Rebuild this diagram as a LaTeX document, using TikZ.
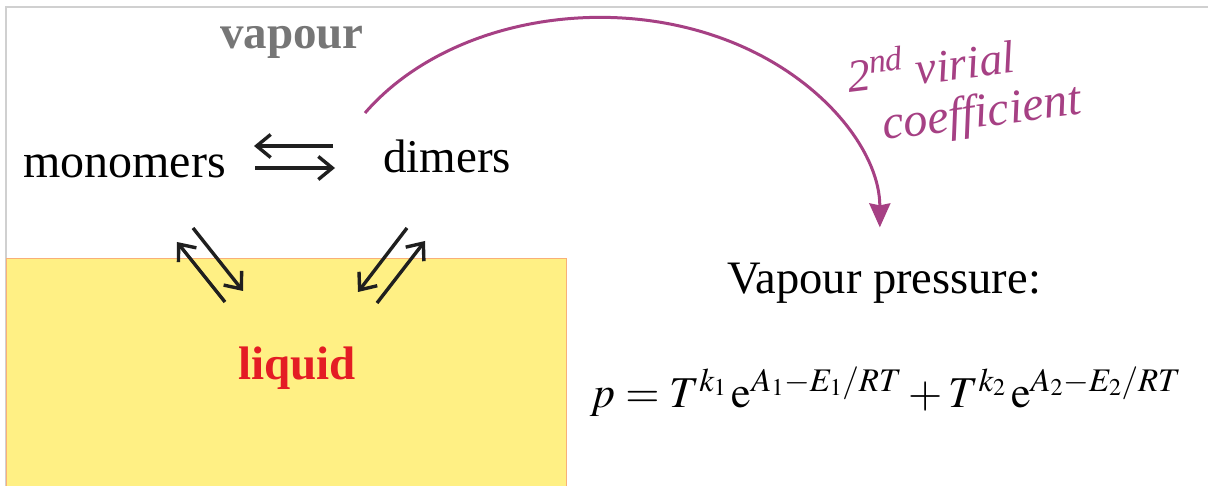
\documentclass[tikz,border=0pt]{standalone}
\usepackage{mathptmx}
\usepackage[no-math]{fontspec}
\setmainfont{Liberation Serif}
\DeclareMathSizes{44}{44}{33}{24}
\usetikzlibrary{arrows.meta}
\definecolor{vir}{RGB}{166,64,132}
\definecolor{vapgray}{RGB}{118,118,118}
\definecolor{liqred}{RGB}{228,28,36}
\definecolor{liqfill}{RGB}{255,240,132}
\definecolor{liqedge}{RGB}{248,176,120}
\definecolor{framegray}{RGB}{208,208,208}
\begin{document}
\begin{tikzpicture}[x=1pt,y=-1pt,
  lbl/.style={inner sep=0pt, anchor=base west},
  eqarrow/.style={line width=3.4pt, draw=black!88, -{Straight Barb[length=14pt,width=23pt]}},
  virarrow/.style={line width=3pt, draw=vir, -{Stealth[length=24pt,width=21pt,inset=2pt]}},
]
\useasboundingbox (0,0) rectangle (1208,486);
\fill[white] (0,0) rectangle (1208,486);
\draw[framegray, line width=1.5pt] (6,490) -- (6,7) -- (1210,7);
\node[draw=liqedge, line width=1.2pt, fill=liqfill, anchor=north west, inner sep=0pt,
      minimum width=560pt, minimum height=240pt] (liquidbox) at (6,258) {};

\node[lbl, text=vapgray, font=\fontsize{47}{56}\selectfont\bfseries] (vapour) at (220,49) {vapour};
\node[lbl, font=\fontsize{48}{58}\selectfont] (mono) at (23,178) {monomers};
\node[lbl, font=\fontsize{47}{56}\selectfont] (dimers) at (383,173) {dimers};
\node[lbl, text=liqred, font=\fontsize{47}{56}\selectfont\bfseries] (liquid) at (238,380) {liquid};
\node[lbl, font=\fontsize{46.5}{56}\selectfont] (vp) at (727,294) {Vapour pressure:};
\node[lbl, font=\fontsize{44}{52}\selectfont] (formula) at (590,407)
  {$p = T^{k_1}\,\mathrm{e}^{A_1-E_1/RT} + T^{k_2}\,\mathrm{e}^{A_2-E_2/RT}$};
\node[lbl, text=vir, rotate=7, font=\fontsize{46}{54}\selectfont\itshape] (vir1) at (849,93) {2\textsuperscript{nd} virial};
\node[lbl, text=vir, rotate=7.5, font=\fontsize{48}{56}\selectfont\itshape] (vir2) at (884,140) {coefficient};

% equilibrium arrows
\coordinate (mdA) at (333,146); \coordinate (mdB) at (254,146);
\coordinate (mdC) at (255,168); \coordinate (mdD) at (335,168);
\draw[eqarrow] (mdA) -- (mdB);
\draw[eqarrow] (mdC) -- (mdD);
\coordinate (mlA) at (225,302); \coordinate (mlB) at (177,242);
\coordinate (mlC) at (193,228); \coordinate (mlD) at (243,291);
\draw[eqarrow] (mlA) -- (mlB);
\draw[eqarrow] (mlC) -- (mlD);
\coordinate (dlA) at (407,228); \coordinate (dlB) at (358,292);
\coordinate (dlC) at (377,303); \coordinate (dlD) at (425,241);
\draw[eqarrow] (dlA) -- (dlB);
\draw[eqarrow] (dlC) -- (dlD);

% virial arrow
\coordinate (arcstart) at (365,113);
\draw[virarrow] (arcstart) arc[start angle=147, end angle=0, x radius=280pt, y radius=210pt];
\end{tikzpicture}
\end{document}
